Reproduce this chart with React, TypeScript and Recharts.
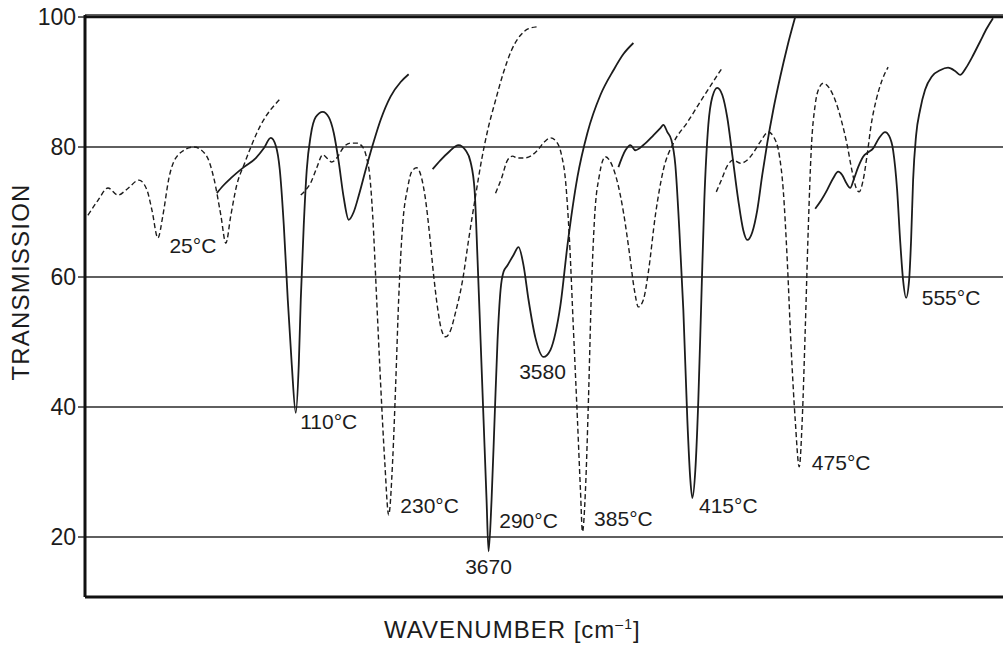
import { CartesianGrid, Label, Line, LineChart, ReferenceDot, ReferenceLine, XAxis, YAxis } from "recharts";

// x is a relative position along the (unlabelled) wavenumber axis, v is transmission
type Pt = [number, number];

const t25: Pt[] = [
  [87, 69.5], [97, 71.8], [107, 73.7], [117, 72.6], [126, 73.5], [138, 74.9], [146, 73.4], [151, 70.3],
  [157, 66.0], [162, 69.5], [168, 75.2], [178, 78.9], [193, 80.0], [205, 78.8], [213, 75.2], [220, 69.5],
  [225, 65.2], [230, 69.5], [236, 74.2], [243, 77.2], [260, 83.4], [280, 87.5],
];

const t110: Pt[] = [
  [216, 72.9], [222, 74.0], [230, 75.2], [243, 76.9], [255, 78.3], [263, 79.8], [270, 81.4], [275, 80.2],
  [279, 76.5], [283, 68.0], [287, 56.5], [291, 46.5], [295, 39.1], [298, 46.5], [300, 56.5], [303, 68.0],
  [306, 76.5], [310, 81.8], [315, 84.6], [322, 85.4], [328, 84.6], [333, 82.2], [338, 77.7], [343, 72.2],
  [348, 68.8], [353, 70.0], [358, 72.5], [365, 76.5], [372, 80.3], [380, 84.2], [390, 87.8], [400, 90.0],
  [408, 91.2],
];

const t230: Pt[] = [
  [300, 72.6], [305, 73.4], [310, 74.5], [316, 76.8], [322, 78.8], [327, 78.2], [331, 77.7], [336, 78.3],
  [343, 80.0], [350, 80.6], [356, 80.6], [362, 80.0], [366, 78.3], [369, 75.7], [372, 69.5], [376, 56.5],
  [380, 43.4], [384, 31.8], [388, 23.4], [392, 31.8], [395, 43.4], [398, 56.5], [402, 68.0], [407, 73.7],
  [411, 76.2], [416, 76.8], [421, 75.2], [425, 71.8], [429, 66.5], [433, 60.3], [437, 55.2], [441, 51.8],
  [445, 50.8], [450, 51.8], [455, 54.6], [462, 59.5], [468, 65.7], [475, 72.5], [481, 78.0], [487, 82.5],
  [495, 87.2], [503, 91.5], [511, 94.9], [520, 97.2], [528, 98.2], [537, 98.5],
];

const t290: Pt[] = [
  [432, 76.6], [440, 78.0], [448, 79.2], [458, 80.3], [465, 79.5], [470, 77.7], [474, 73.4], [477, 62.6],
  [480, 50.3], [483, 38.0], [486, 25.7], [488, 17.8], [491, 25.7], [494, 38.0], [497, 50.3], [500, 58.0],
  [503, 60.8], [507, 61.8], [513, 63.4], [518, 64.6], [523, 61.8], [528, 56.5], [535, 50.6], [543, 47.7],
  [550, 48.8], [555, 51.4], [560, 55.7], [567, 64.9], [577, 75.4], [587, 82.2], [600, 88.0], [613, 91.8],
  [623, 94.3], [633, 96.0],
];

const t385: Pt[] = [
  [495, 72.9], [501, 75.2], [507, 78.0], [512, 78.6], [517, 78.3], [523, 78.3], [530, 78.6], [537, 79.5],
  [544, 80.8], [550, 81.4], [556, 80.8], [561, 78.8], [565, 74.9], [569, 65.7], [573, 51.8], [577, 38.0],
  [580, 27.2], [582, 20.8], [585, 27.2], [588, 41.1], [591, 58.0], [594, 68.8], [599, 75.7], [605, 78.5],
  [611, 77.4], [617, 74.6], [623, 70.0], [629, 63.7], [634, 58.0], [638, 55.4], [643, 56.5], [648, 60.8],
  [655, 69.5], [663, 76.5], [673, 80.6], [687, 83.8], [703, 87.7], [722, 92.2],
];

const t415: Pt[] = [
  [618, 76.9], [625, 79.5], [630, 80.3], [635, 79.5], [643, 80.3], [653, 81.8], [660, 82.9], [663, 83.4],
  [667, 82.3], [671, 81.1], [675, 77.2], [679, 67.2], [683, 54.9], [687, 38.0], [690, 28.8], [692, 26.0],
  [695, 30.3], [698, 41.1], [701, 56.5], [704, 71.8], [708, 83.4], [712, 87.7], [717, 89.1], [722, 88.0],
  [727, 84.5], [732, 78.8], [738, 71.8], [743, 67.2], [747, 65.7], [752, 66.9], [757, 70.3], [762, 75.7],
  [767, 80.6], [773, 85.7], [780, 90.8], [787, 95.4], [795, 100.0],
];

const t475: Pt[] = [
  [716, 73.1], [721, 74.9], [727, 77.1], [733, 78.0], [740, 77.5], [747, 78.0], [753, 79.1], [760, 80.8],
  [768, 82.3], [774, 81.4], [779, 78.8], [783, 73.4], [787, 62.6], [791, 48.8], [795, 38.0], [799, 30.8],
  [802, 38.0], [805, 51.8], [808, 67.2], [811, 79.5], [815, 86.5], [819, 89.1], [823, 89.8], [829, 89.1],
  [835, 87.2], [841, 84.2], [847, 80.3], [852, 76.2], [856, 73.7], [859, 73.1], [863, 74.9], [867, 78.8],
  [871, 83.4], [876, 87.2], [882, 90.3], [888, 92.3],
];

const t555: Pt[] = [
  [815, 70.5], [821, 71.8], [827, 73.4], [833, 75.2], [838, 76.2], [842, 75.7], [846, 74.5], [850, 73.7],
  [854, 75.2], [858, 76.9], [863, 78.5], [868, 79.2], [873, 79.8], [879, 81.4], [885, 82.3], [889, 81.7],
  [893, 79.5], [897, 73.4], [900, 65.7], [903, 59.5], [906, 56.8], [909, 59.5], [911, 65.7], [913, 74.9],
  [916, 81.8], [920, 85.7], [925, 88.8], [932, 90.9], [940, 91.8], [948, 92.2], [955, 91.7], [960, 91.1],
  [966, 92.2], [972, 93.8], [980, 96.2], [987, 98.3], [993, 99.8],
];

const spectra = [
  { key: "25", pts: t25, dashed: true },
  { key: "110", pts: t110, dashed: false },
  { key: "230", pts: t230, dashed: true },
  { key: "290", pts: t290, dashed: false },
  { key: "385", pts: t385, dashed: true },
  { key: "415", pts: t415, dashed: false },
  { key: "475", pts: t475, dashed: true },
  { key: "555", pts: t555, dashed: false },
];

const notes: { text: string; x: number; v: number }[] = [
  { text: "25°C", x: 192, v: 64.9 },
  { text: "110°C", x: 328, v: 37.8 },
  { text: "230°C", x: 429, v: 24.8 },
  { text: "3670", x: 488, v: 15.5 },
  { text: "290°C", x: 528, v: 22.5 },
  { text: "3580", x: 542, v: 45.5 },
  { text: "385°C", x: 623, v: 22.8 },
  { text: "415°C", x: 728, v: 24.8 },
  { text: "475°C", x: 841, v: 31.5 },
  { text: "555°C", x: 951, v: 56.8 },
];

const yTicks = [20, 40, 60, 80, 100];

const FONT = '"Liberation Sans", Arial, Helvetica, sans-serif';
const INK = "#1c1c1c";

const XTitle = () => (
  <text x={384} y={638} fontSize={24} letterSpacing={1} fontFamily={FONT} fill={INK}>
    WAVENUMBER [cm
    <tspan dy={-9} fontSize={14}>
      –1
    </tspan>
    <tspan dy={9}>]</tspan>
  </text>
);

const YTitle = () => (
  <text
    x={20}
    y={282}
    transform="rotate(-90 20 282)"
    textAnchor="middle"
    dominantBaseline="central"
    fontSize={24}
    letterSpacing={1.2}
    fontFamily={FONT}
    fill={INK}
  >
    TRANSMISSION
  </text>
);

export default function App() {
  return (
    <div style={{ position: "absolute", left: 0, top: 0, width: 1003, height: 645, background: "#fff" }}>
      <LineChart width={1003} height={645} margin={{ top: 15, right: 0, bottom: 0, left: 0 }}>
        <CartesianGrid vertical={false} stroke="#2a2a2a" strokeWidth={1.3} />
        <XAxis
          type="number"
          dataKey="x"
          domain={[84, 1003]}
          allowDataOverflow
          height={48}
          tick={false}
          tickLine={false}
          axisLine={{ stroke: "#111", strokeWidth: 3 }}
        >
          <Label content={<XTitle />} />
        </XAxis>
        <YAxis
          type="number"
          domain={[10.77, 100.31]}
          ticks={yTicks}
          allowDataOverflow
          width={85}
          tickSize={7}
          tickLine={{ stroke: "#111", strokeWidth: 1.3 }}
          axisLine={{ stroke: "#111", strokeWidth: 3 }}
          tick={{ fill: INK, fontSize: 23, fontFamily: FONT }}
        >
          <Label content={<YTitle />} />
        </YAxis>
        <ReferenceLine y={100} stroke="#111" strokeWidth={2.5} />
        {spectra.map((s) => (
          <Line
            key={s.key}
            data={s.pts.map(([x, v]) => ({ x, v }))}
            dataKey="v"
            type="monotone"
            stroke={INK}
            strokeWidth={s.dashed ? 1.4 : 1.8}
            strokeDasharray={s.dashed ? "5 3" : undefined}
            dot={false}
            activeDot={false}
            isAnimationActive={false}
          />
        ))}
        {notes.map((n) => (
          <ReferenceDot key={n.text} x={n.x} y={n.v} r={0} fill="none" stroke="none">
            <Label value={n.text} position="center" fontSize={21} fontFamily={FONT} fill={INK} />
          </ReferenceDot>
        ))}
      </LineChart>
    </div>
  );
}
